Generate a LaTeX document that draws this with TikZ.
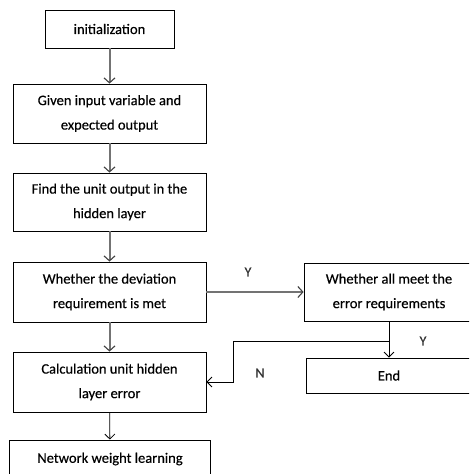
\documentclass[tikz,border=0pt]{standalone}
\usepackage{fontspec}
\setmainfont{Carlito}[FakeBold=0.4]
\usetikzlibrary{arrows.meta}

\tikzset{
    stepbox/.style={draw=black, line width=0.8pt, align=center, inner sep=0pt,
        font=\fontsize{14.5}{24.5}\selectfont},
    grayarrow/.style={draw=black!55, line width=2pt, -{Straight Barb[length=5pt,width=11pt,line width=1.1pt,color=black!75]}},
    thinarrow/.style={draw=black, line width=0.8pt, -{Straight Barb[length=5pt,width=10pt]}},
    lbl/.style={font=\fontsize{14}{16}\selectfont, text=black!80}
}

\begin{document}
\begin{tikzpicture}[x=1pt, y=-1pt]

    % Canvas
    \useasboundingbox (0,0) rectangle (469,474);
    \clip (0,0) rectangle (469,474);

    % Main column
    \node[stepbox, minimum width=129pt, minimum height=38pt] (init) at (109.5, 29) {initialization};
    \node[stepbox, minimum width=193pt, minimum height=59pt] (given) at (109.5, 113.5) {Given input variable and\\expected output};
    \node[stepbox, minimum width=193pt, minimum height=58pt] (find) at (109.5, 202) {Find the unit output in the\\hidden layer};
    \node[stepbox, minimum width=193pt, minimum height=60pt] (dev) at (109.5, 292) {Whether the deviation\\requirement is met};
    \node[stepbox, minimum width=193pt, minimum height=60pt] (calc) at (109.5, 382) {Calculation unit hidden\\layer error};
    \node[stepbox, minimum width=201pt, minimum height=38pt] (learn) at (110, 459) {Network weight learning};

    % Right column
    \node[stepbox, minimum width=170pt, minimum height=58pt] (allmeet) at (389, 292) {Whether all meet the\\error requirements};
    \node[stepbox, minimum width=166pt, minimum height=35pt] (done) at (389, 375.5) {End};

    % Connections
    \draw[grayarrow] (init) -- (given);
    \draw[grayarrow] (given) -- (find);
    \draw[grayarrow] (find) -- (dev);
    \draw[grayarrow] (dev) -- (calc);
    \draw[thinarrow] (calc) -- (learn);
    \draw[grayarrow] (dev) -- (allmeet);
    \draw[thinarrow] (allmeet) -- (done);

    \coordinate (nturn) at (233, 341);
    \draw[thinarrow] (allmeet.south |- nturn) -- (nturn) |- (calc.east);

    % Branch labels
    \node[lbl] (yright) at (248, 272) {Y};
    \node[lbl] (ydown) at (423, 341) {Y};
    \node[lbl] (nleft) at (260, 373) {N};

\end{tikzpicture}
\end{document}
